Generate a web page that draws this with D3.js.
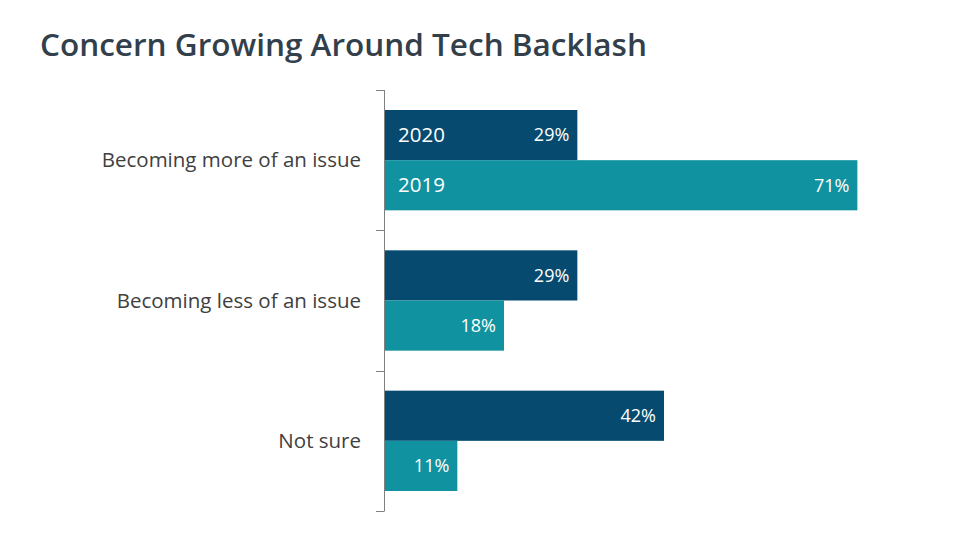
<!DOCTYPE html>
<html>
<head>
<meta charset="utf-8">
<script src="https://cdn.jsdelivr.net/npm/d3@7"></script>
<style>
  html, body { margin: 0; padding: 0; background: #fff; }
  svg { display: block; }
</style>
</head>
<body>
<svg id="chart" width="960" height="540"></svg>
<script>
const title = "Concern Growing Around Tech Backlash";
const categories = ["Becoming more of an issue", "Becoming less of an issue", "Not sure"];
const seriesNames = ["2020", "2019"];
const values2020 = [0.29, 0.29, 0.42];
const values2019 = [0.71, 0.18, 0.11];
const colors = ["#074A70", "#1192A0"];

const svg = d3.select("#chart");
const font = "'Open Sans', 'Noto Sans', sans-serif";

svg.append("text")
  .attr("x", 40).attr("y", 56)
  .attr("font-family", font).attr("font-weight", 600)
  .attr("font-size", 31.5).attr("fill", "#333F4B")
  .text(title);

const x = d3.scaleLinear().domain([0, 0.8]).range([384, 384 + 0.8 * 666.7]);
const y = d3.scaleBand().domain(categories).range([90, 511]).paddingInner(0).paddingOuter(0);
const inner = d3.scaleBand().domain(seriesNames).range([20, y.bandwidth() - 20]);

const series = [values2020, values2019];
const rows = [];
categories.forEach((c, i) => {
  seriesNames.forEach((s, j) => rows.push({ cat: c, ser: s, val: series[j][i], j, i }));
});

const g = svg.append("g");
g.selectAll("rect").data(rows).join("rect")
  .attr("x", x(0))
  .attr("y", d => y(d.cat) + inner(d.ser))
  .attr("width", d => x(d.val) - x(0))
  .attr("height", inner.bandwidth())
  .attr("fill", d => colors[d.j]);

g.selectAll("text.val").data(rows).join("text")
  .attr("class", "val")
  .attr("x", d => x(d.val) - 8)
  .attr("y", d => y(d.cat) + inner(d.ser) + inner.bandwidth() / 2)
  .attr("dy", "0.35em")
  .attr("text-anchor", "end")
  .attr("font-family", font).attr("font-size", 18)
  .attr("fill", "#fff")
  .text(d => d3.format(".0%")(d.val));

// series name labels inside first category bars
g.selectAll("text.ser").data(rows.filter(d => d.i === 0)).join("text")
  .attr("class", "ser")
  .attr("x", x(0) + 14)
  .attr("y", d => y(d.cat) + inner(d.ser) + inner.bandwidth() / 2)
  .attr("dy", "0.35em")
  .attr("font-family", font).attr("font-size", 20.5)
  .attr("fill", "#fff")
  .text(d => d.ser);

// category axis with ticks at band boundaries
const axisG = svg.append("g");
axisG.append("line")
  .attr("x1", 384.5).attr("x2", 384.5)
  .attr("y1", y.range()[0]).attr("y2", y.range()[1])
  .attr("stroke", "#808080").attr("stroke-width", 1);
const bounds = categories.map(c => y(c)).concat([y.range()[1]]);
axisG.selectAll("line.tick").data(bounds).join("line")
  .attr("class", "tick")
  .attr("x1", 376).attr("x2", 384.5)
  .attr("y1", d => Math.round(d) + 0.5).attr("y2", d => Math.round(d) + 0.5)
  .attr("stroke", "#808080").attr("stroke-width", 1);
axisG.selectAll("text.cat").data(categories).join("text")
  .attr("class", "cat")
  .attr("x", 361)
  .attr("y", d => y(d) + y.bandwidth() / 2)
  .attr("dy", "0.35em")
  .attr("text-anchor", "end")
  .attr("font-family", font).attr("font-size", 20.5)
  .attr("fill", "#404040")
  .text(d => d);
</script>
</body>
</html>
